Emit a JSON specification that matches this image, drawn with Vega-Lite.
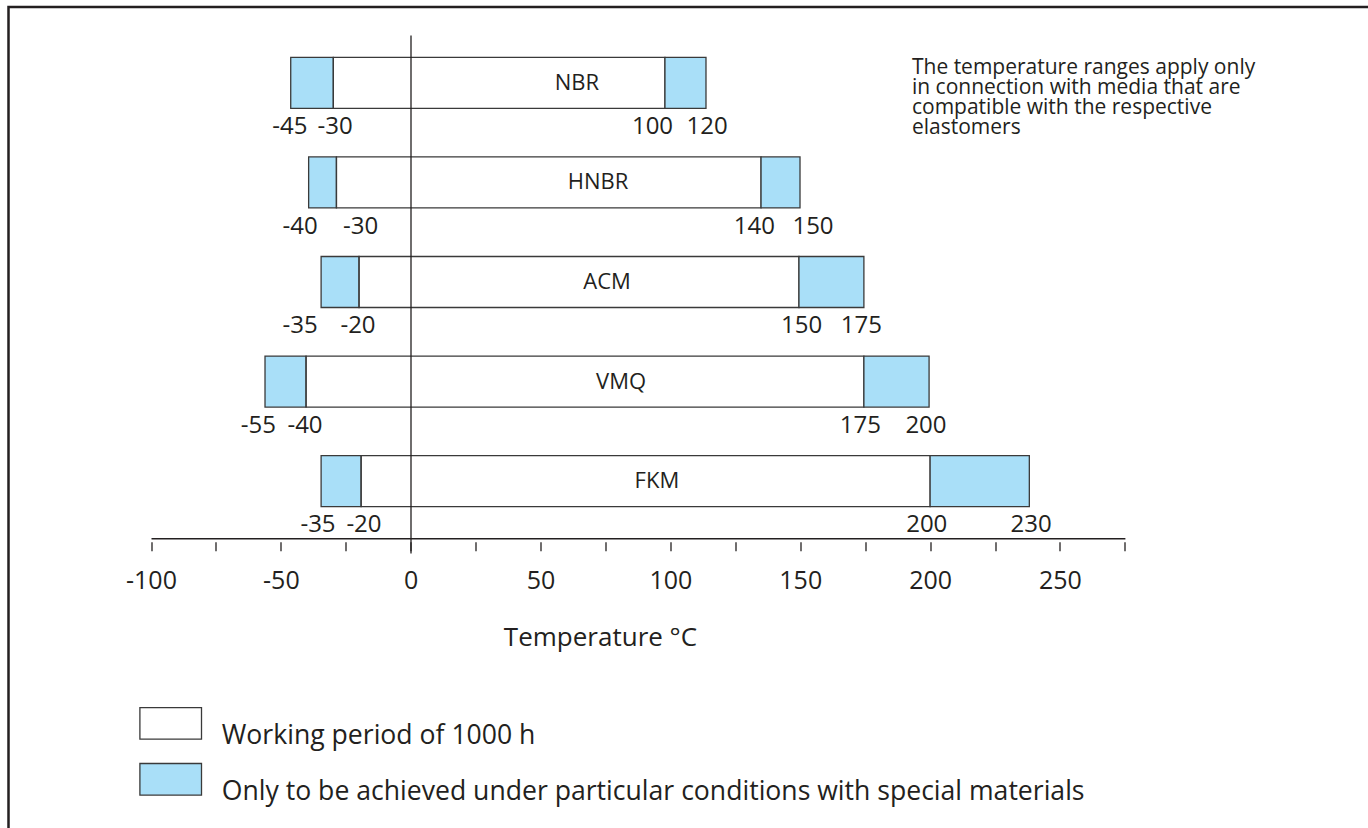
{
  "$schema": "https://vega.github.io/schema/vega-lite/v6.json",
  "width": 1370,
  "height": 830,
  "padding": {"left": 8.5, "top": 7, "right": 0, "bottom": 0},
  "autosize": {"type": "pad"},
  "config": {
    "view": {"stroke": "#231f20", "strokeWidth": 2.5},
    "font": "Open Sans",
    "text": {"font": "Open Sans", "color": "#231f20"}
  },
  "datasets": {
    "bars": [
      {"material": "NBR", "kind": "Only to be achieved under particular conditions with special materials", "start": -46.2, "end": -29.8},
      {"material": "NBR", "kind": "Working period of 1000 h", "start": -29.8, "end": 97.9},
      {"material": "NBR", "kind": "Only to be achieved under particular conditions with special materials", "start": 97.9, "end": 113.7},
      {"material": "HNBR", "kind": "Only to be achieved under particular conditions with special materials", "start": -39.3, "end": -28.6},
      {"material": "HNBR", "kind": "Working period of 1000 h", "start": -28.6, "end": 134.9},
      {"material": "HNBR", "kind": "Only to be achieved under particular conditions with special materials", "start": 134.9, "end": 149.9},
      {"material": "ACM", "kind": "Only to be achieved under particular conditions with special materials", "start": -34.5, "end": -19.9},
      {"material": "ACM", "kind": "Working period of 1000 h", "start": -19.9, "end": 149.5},
      {"material": "ACM", "kind": "Only to be achieved under particular conditions with special materials", "start": 149.5, "end": 174.5},
      {"material": "VMQ", "kind": "Only to be achieved under particular conditions with special materials", "start": -56.1, "end": -40.3},
      {"material": "VMQ", "kind": "Working period of 1000 h", "start": -40.3, "end": 174.5},
      {"material": "VMQ", "kind": "Only to be achieved under particular conditions with special materials", "start": 174.5, "end": 199.6},
      {"material": "FKM", "kind": "Only to be achieved under particular conditions with special materials", "start": -34.5, "end": -19.1},
      {"material": "FKM", "kind": "Working period of 1000 h", "start": -19.1, "end": 200},
      {"material": "FKM", "kind": "Only to be achieved under particular conditions with special materials", "start": 200, "end": 238.2}
    ],
    "labels": [
      {"material": "NBR", "label": "-45", "at": -46.5},
      {"material": "NBR", "label": "-30", "at": -29.1},
      {"material": "NBR", "label": "100", "at": 93.1},
      {"material": "NBR", "label": "120", "at": 114.1},
      {"material": "HNBR", "label": "-40", "at": -42.6},
      {"material": "HNBR", "label": "-30", "at": -19.3},
      {"material": "HNBR", "label": "140", "at": 132.3},
      {"material": "HNBR", "label": "150", "at": 154.9},
      {"material": "ACM", "label": "-35", "at": -42.6},
      {"material": "ACM", "label": "-20", "at": -20.3},
      {"material": "ACM", "label": "150", "at": 150.5},
      {"material": "ACM", "label": "175", "at": 173.5},
      {"material": "VMQ", "label": "-55", "at": -58.7},
      {"material": "VMQ", "label": "-40", "at": -40.7},
      {"material": "VMQ", "label": "175", "at": 173.1},
      {"material": "VMQ", "label": "200", "at": 198.4},
      {"material": "FKM", "label": "-35", "at": -35.7},
      {"material": "FKM", "label": "-20", "at": -18},
      {"material": "FKM", "label": "200", "at": 198.7},
      {"material": "FKM", "label": "230", "at": 238.9}
    ],
    "names": [
      {"material": "NBR", "at": 64},
      {"material": "HNBR", "at": 72.1},
      {"material": "ACM", "at": 75.6},
      {"material": "VMQ", "at": 81},
      {"material": "FKM", "at": 94.8}
    ],
    "note": [
      {"text": ["The temperature ranges apply only", "in connection with media that are", "compatible with the respective", "elastomers"]}
    ]
  },
  "encoding": {
    "y": {
      "field": "material",
      "type": "nominal",
      "scale": {"domain": ["NBR", "HNBR", "ACM", "VMQ", "FKM"], "range": [28, 546], "paddingInner": 0.488, "paddingOuter": 0.3444, "align": 0.325},
      "axis": null
    }
  },
  "layer": [
    {
      "data": {"name": "bars"},
      "mark": {"type": "rect", "stroke": "#3a3a3a", "strokeWidth": 1.3},
      "encoding": {
        "x": {
          "field": "start",
          "type": "quantitative",
          "scale": {"domain": [-100, 275], "range": [142.5, 1116.4], "nice": false, "zero": false},
          "axis": {"orient": "bottom", "offset": -298.7, "domain": true, "domainColor": "#231f20", "domainWidth": 1.5, "ticks": false, "labels": false, "grid": false, "title": null}
        },
        "x2": {"field": "end"},
        "fill": {
          "field": "kind",
          "type": "nominal",
          "scale": {"domain": ["Working period of 1000 h", "Only to be achieved under particular conditions with special materials"], "range": ["transparent", "#a9dff8"]},
          "legend": {
            "orient": "none",
            "legendX": 145.7,
            "legendY": 699.9,
            "title": null,
            "direction": "vertical",
            "symbolType": "M-1.95,-1H1.95V1H-1.95Z",
            "symbolSize": 998,
            "symbolStrokeColor": "#3a3a3a",
            "symbolStrokeWidth": 1.3,
            "symbolOpacity": 1,
            "labelFontSize": 26.6,
            "labelFont": "Open Sans",
            "labelColor": "#231f20",
            "labelBaseline": "top",
            "labelOffset": 34.6,
            "labelLimit": 1200,
            "rowPadding": 9.9,
            "padding": 0
          }
        }
      }
    },
    {
      "data": {"name": "labels"},
      "mark": {"type": "text", "fontSize": 24, "baseline": "alphabetic", "dy": 51.2},
      "encoding": {
        "x": {
          "field": "at",
          "type": "quantitative",
          "axis": {
            "orient": "bottom",
            "offset": -295.3,
            "domain": false,
            "ticks": true,
            "tickSize": 9,
            "tickColor": "#231f20",
            "tickWidth": 1.3,
            "grid": false,
            "values": [-100, -75, -50, -25, 0, 25, 50, 75, 100, 125, 150, 175, 200, 225, 250, 275],
            "labelExpr": "datum.value % 50 === 0 ? '' + datum.value : ''",
            "labelFontSize": 25,
            "labelFont": "Open Sans",
            "labelColor": "#231f20",
            "labelBaseline": "alphabetic",
            "labelPadding": 37.6,
            "labelFlush": false,
            "labelOverlap": false,
            "title": "Temperature °C",
            "titleFont": "Open Sans",
            "titleFontSize": 26,
            "titleFontWeight": "normal",
            "titleColor": "#231f20",
            "titleX": 591.5,
            "titleY": 103.3,
            "titleBaseline": "alphabetic",
            "titleAlign": "center"
          }
        },
        "text": {"field": "label"}
      }
    },
    {
      "data": {"name": "names"},
      "mark": {"type": "text", "fontSize": 22, "baseline": "middle"},
      "encoding": {
        "x": {
          "field": "at",
          "type": "quantitative",
          "axis": {"orient": "top", "offset": 0, "values": [0], "grid": true, "gridColor": "#231f20", "gridWidth": 1.3, "gridOpacity": 1, "domain": false, "ticks": false, "labels": false, "title": null, "zindex": 1}
        },
        "text": {"field": "material"}
      }
    },
    {
      "data": {"name": "note"},
      "mark": {"type": "text", "fontSize": 21, "align": "left", "baseline": "alphabetic", "lineHeight": 20, "dy": -8.9},
      "encoding": {
        "x": {"datum": 193, "type": "quantitative", "axis": null},
        "y": {"datum": "NBR", "type": "nominal", "axis": null},
        "text": {"field": "text"}
      }
    }
  ],
  "resolve": {"axis": {"x": "independent"}}
}
